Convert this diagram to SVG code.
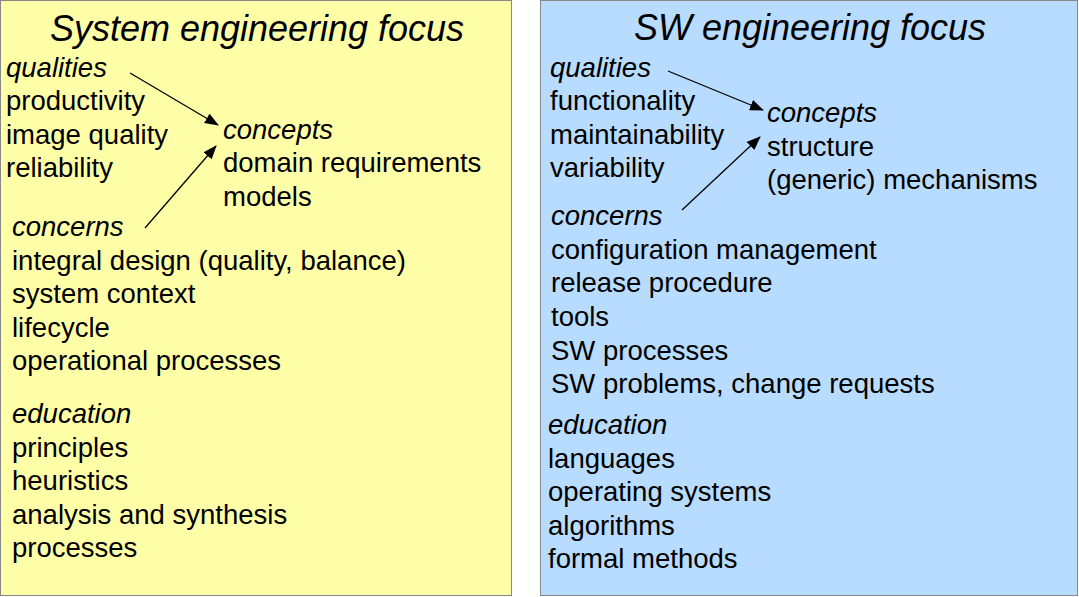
<svg xmlns="http://www.w3.org/2000/svg" width="1079" height="597" viewBox="0 0 1079 597">
<defs><marker id="ah" markerWidth="14" markerHeight="11" refX="13" refY="5.5" orient="auto" markerUnits="userSpaceOnUse"><path d="M0,0L14,5.5L0,11Z" fill="#000"/></marker></defs>
<style>text{font-family:"Liberation Sans",Arial,sans-serif;font-size:27.5px;fill:#000}.i{font-style:italic}.t{font-style:italic;font-size:36px;text-anchor:middle}.a{stroke:#000;stroke-width:1.3;fill:none;marker-end:url(#ah)}</style>
<g id="left"><rect x="0.5" y="0.5" width="511" height="595" fill="#FFFFA8" stroke="#888"/>
<text class="t" x="257" y="41">System engineering focus</text>
<text class="i" x="6" y="77">qualities</text><text x="6" y="110">productivity</text><text x="6" y="144">image quality</text><text x="6" y="177">reliability</text>
<text class="i" x="223" y="139">concepts</text><text x="223" y="172">domain requirements</text><text x="223" y="206">models</text>
<text class="i" x="12" y="236">concerns</text><text x="12" y="270">integral design (quality, balance)</text><text x="12" y="303">system context</text><text x="12" y="337">lifecycle</text><text x="12" y="370">operational processes</text>
<text class="i" x="12" y="423">education</text><text x="12" y="457">principles</text><text x="12" y="490">heuristics</text><text x="12" y="524">analysis and synthesis</text><text x="12" y="557">processes</text></g>
<g id="right"><rect x="540.5" y="0.5" width="537" height="595" fill="#B8DCFF" stroke="#888"/>
<text class="t" x="810" y="40">SW engineering focus</text>
<text class="i" x="550" y="77">qualities</text><text x="550" y="110">functionality</text><text x="550" y="144">maintainability</text><text x="550" y="177">variability</text>
<text class="i" x="767" y="122">concepts</text><text x="767" y="156">structure</text><text x="767" y="189">(generic) mechanisms</text>
<text class="i" x="551" y="225">concerns</text><text x="551" y="259">configuration management</text><text x="551" y="292">release procedure</text><text x="551" y="326">tools</text><text x="551" y="360">SW processes</text><text x="551" y="393">SW problems, change requests</text>
<text class="i" x="548" y="434">education</text><text x="548" y="468">languages</text><text x="548" y="501">operating systems</text><text x="548" y="535">algorithms</text><text x="548" y="568">formal methods</text></g>
<g id="connectors"><line class="a" x1="130" y1="73" x2="218" y2="125"/><line class="a" x1="145" y1="228" x2="216" y2="146"/><line class="a" x1="668" y1="71" x2="763" y2="110"/><line class="a" x1="682" y1="210" x2="760" y2="137"/></g>
</svg>
